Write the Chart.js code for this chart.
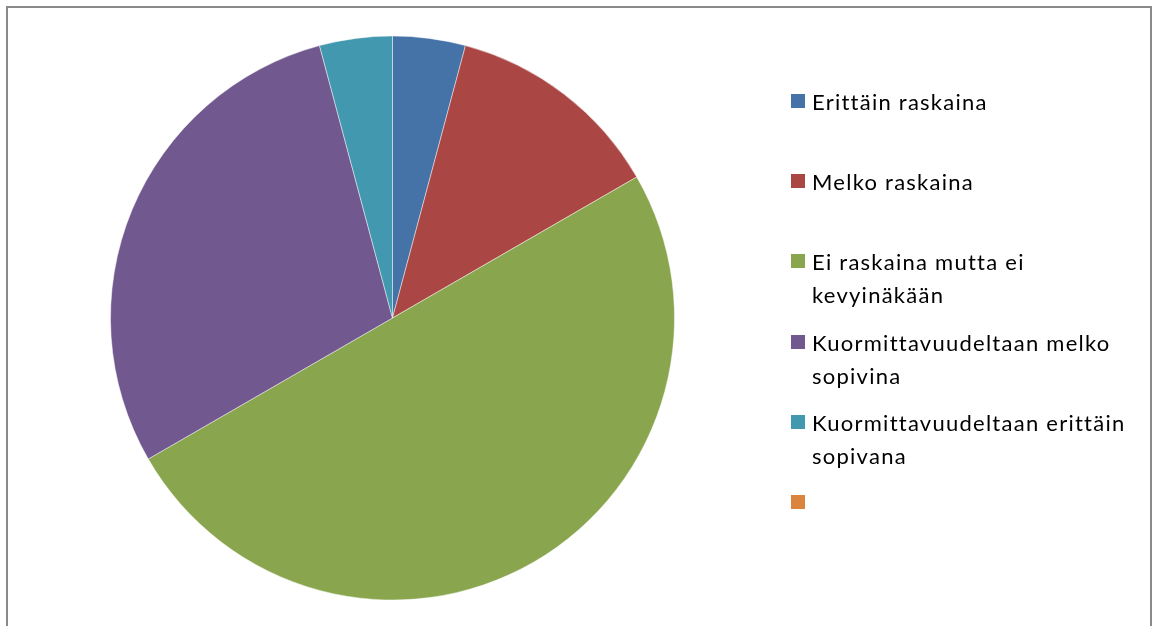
<!DOCTYPE html>
<html lang="fi">
<head>
<meta charset="utf-8">
<title>Kuormittavuus</title>
<script src="https://cdn.jsdelivr.net/npm/chart.js@4.4.1/dist/chart.umd.min.js"></script>
<style>
  html, body { margin: 0; padding: 0; background: #fff; }
  #wrap { position: relative; width: 1158px; height: 626px; overflow: hidden; }
  #frame {
    position: absolute; left: 6px; top: 6px; width: 1146px; height: 660px;
    border: 2px solid #8a8a8a; box-sizing: border-box;
  }
  #pie { position: absolute; left: 0; top: 0; }
  #legend {
    position: absolute; left: 790px; top: 0; width: 360px;
    font-family: Lato, "Open Sans", sans-serif; font-size: 22px; letter-spacing: 1.25px; color: #000;
  }
  .item { position: absolute; left: 0; width: 360px; }
  .swatch { position: absolute; left: 1px; top: 7px; width: 14px; height: 14px; }
  .text { position: absolute; left: 22px; top: 0; line-height: 33px; white-space: nowrap; margin-top: -2px; }
</style>
</head>
<body>
<div id="wrap">
  <div id="frame"></div>
  <canvas id="pie" width="1158" height="626"></canvas>
  <div id="legend"></div>
</div>
<script>
// Vastausluokat (rivitys kuten selitteessä)
const categories = [
  ['Erittäin raskaina'],
  ['Melko raskaina'],
  ['Ei raskaina mutta ei', 'kevyinäkään'],
  ['Kuormittavuudeltaan melko', 'sopivina'],
  ['Kuormittavuudeltaan erittäin', 'sopivana'],
  ['']
];
// Vastaajien lukumäärät
const counts = [1, 3, 12, 7, 1, 0];
const colors = ['#4572A7', '#AA4643', '#89A54E', '#71588F', '#4198AF', '#DB843D'];

const ctx = document.getElementById('pie');
new Chart(ctx, {
  type: 'pie',
  data: {
    labels: categories.map(l => l.join(' ')),
    datasets: [{
      data: counts,
      backgroundColor: colors,
      borderColor: 'rgba(255,255,255,0.45)',
      borderWidth: 1
    }]
  },
  options: {
    responsive: false,
    animation: false,
    layout: { padding: { left: 110, right: 483, top: 35, bottom: 25 } },
    plugins: { legend: { display: false }, tooltip: { enabled: false } }
  }
});

// Selite
const legend = document.getElementById('legend');
const legendTop = 87;
const legendStep = 80.2;
categories.forEach((lines, i) => {
  const item = document.createElement('div');
  item.className = 'item';
  item.style.top = (legendTop + i * legendStep) + 'px';
  const sw = document.createElement('div');
  sw.className = 'swatch';
  sw.style.background = colors[i];
  const tx = document.createElement('div');
  tx.className = 'text';
  tx.innerHTML = lines.map(s => s.replace(/&/g, '&amp;').replace(/</g, '&lt;')).join('<br>');
  item.appendChild(sw);
  item.appendChild(tx);
  legend.appendChild(item);
});
</script>
</body>
</html>
